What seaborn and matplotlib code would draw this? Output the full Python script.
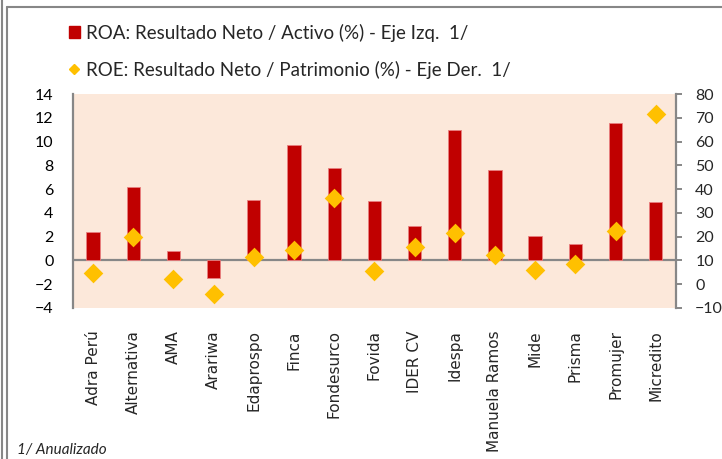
import numpy as np
import pandas as pd
import matplotlib.pyplot as plt
import seaborn as sns
from matplotlib.patches import Patch
from matplotlib.lines import Line2D

entidades = ['Adra Perú', 'Alternativa', 'AMA', 'Arariwa', 'Edaprospo', 'Finca',
             'Fondesurco', 'Fovida', 'IDER CV', 'Idespa', 'Manuela Ramos', 'Mide',
             'Prisma', 'Promujer', 'Micredito']
roa = [2.4, 6.2, 0.8, -1.5, 5.1, 9.7, 7.8, 5.0, 2.9, 11.0, 7.6, 2.1, 1.4, 11.6, 4.9]
roe = [4.6, 20.0, 2.1, -4.2, 11.6, 14.4, 36.1, 5.6, 15.5, 21.7, 12.4, 5.9, 8.5, 22.4, 71.6]

lbl_roa = 'ROA: Resultado Neto / Activo (%) - Eje Izq.  1/'
lbl_roe = 'ROE: Resultado Neto / Patrimonio (%) - Eje Der.  1/'

df = pd.DataFrame({'entidad': entidades, 'roa': roa, 'roe': roe})

sns.set_style('white')
plt.rcParams['font.family'] = ['Lato', 'DejaVu Sans']

rojo = '#C00000'
amarillo = '#FFC000'
gris = '#878787'

fig = plt.figure(figsize=(7.22, 4.59), dpi=100)
ax = fig.add_axes([0.101, 0.329, 0.835, 0.466])
ax.set_facecolor('#FCE8DA')

sns.barplot(data=df, x='entidad', y='roa', color=rojo, width=0.33, saturation=1,
            edgecolor='#E88080', linewidth=0.6, ax=ax, zorder=2)
ax.axhline(0, color=gris, lw=1.6, zorder=1)
ax.set_ylim(-4, 14)
ax.set_yticks(range(-4, 15, 2))
ax.set_xlabel('')
ax.set_ylabel('')
ax.tick_params(axis='y', length=0, labelsize=11.5, pad=14, colors='black')
ax.tick_params(axis='x', length=0, pad=16)
ax.set_xticks(range(len(entidades)))
ax.set_xticklabels(entidades, rotation=90, fontsize=11, family='DejaVu Sans')
for s in ['top', 'bottom', 'right']:
    ax.spines[s].set_visible(False)
ax.spines['left'].set_color(gris)
ax.spines['left'].set_linewidth(1.6)
ax.set_xlim(-0.5, len(entidades) - 0.5)

ax2 = ax.twinx()
sns.stripplot(data=df, x='entidad', y='roe', jitter=False, marker='D', size=10,
              color=amarillo, ax=ax2, zorder=3)
ax2.set_ylim(-10, 80)
ax2.set_yticks(range(-10, 81, 10))
ax2.set_ylabel('')
ax2.set_xlabel('')
ax2.set_xlim(-0.5, len(entidades) - 0.5)
ax2.tick_params(axis='y', length=4, width=1.4, color=gris, labelsize=11.5, pad=10, right=True)
for s in ['top', 'bottom', 'left']:
    ax2.spines[s].set_visible(False)
ax2.spines['right'].set_color(gris)
ax2.spines['right'].set_linewidth(1.6)

handles = [Patch(facecolor=rojo, edgecolor=rojo),
           Line2D([], [], marker='D', color=amarillo, lw=0, markersize=5.5)]
fig.legend(handles, [lbl_roa, lbl_roe], loc='upper left', bbox_to_anchor=(0.072, 0.985),
           frameon=False, fontsize=13.5, labelspacing=1.0, handlelength=0.6,
           handletextpad=0.3, handleheight=0.6)

fig.text(0.024, 0.01, '1/ Anualizado', fontsize=11, style='italic')

# marco exterior
fig.add_artist(Line2D([1.5 / 722, 1.5 / 722], [0, 1], color=gris, lw=1.5))
fig.add_artist(Line2D([7 / 722, 7 / 722], [0, 1 - 7 / 459], color=gris, lw=1.5))
fig.add_artist(Line2D([7 / 722, 1], [1 - 7 / 459, 1 - 7 / 459], color=gris, lw=1.5))

fig.savefig('out.png', dpi=100)
